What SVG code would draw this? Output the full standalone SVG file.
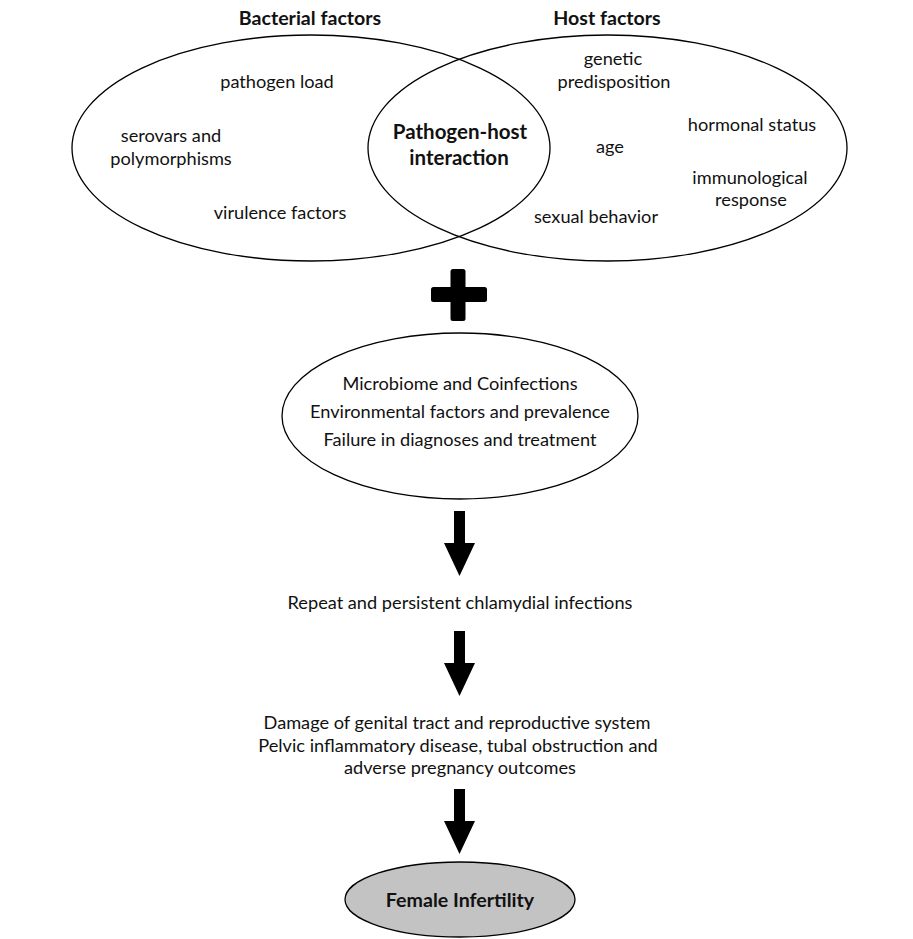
<svg xmlns="http://www.w3.org/2000/svg" width="913" height="939" viewBox="0 0 913 939">
<style>
.t{font-family:Lato,"Open Sans",sans-serif;font-size:18.2px;fill:#111;text-anchor:middle}
.b{font-family:Lato,"Open Sans",sans-serif;font-weight:bold;font-size:19.6px;fill:#111;text-anchor:middle}
.e{fill:none;stroke:#000;stroke-width:1.3}
.arr{fill:#000}
</style>
<rect width="913" height="939" fill="#fff"/>
<g id="bacterial-factors">
<ellipse class="e" cx="311" cy="148" rx="239" ry="113"/>
<text class="b" x="310" y="25">Bacterial factors</text>
<text class="t" x="277" y="88">pathogen load</text>
<text class="t" x="171" y="142">serovars and</text>
<text class="t" x="171" y="165">polymorphisms</text>
<text class="t" x="280" y="219">virulence factors</text>
</g>
<g id="host-factors">
<ellipse class="e" cx="607.5" cy="148" rx="239.5" ry="113"/>
<text class="b" x="607" y="25">Host factors</text>
<text class="t" x="613" y="65">genetic</text>
<text class="t" x="614" y="88">predisposition</text>
<text class="t" x="752" y="131">hormonal status</text>
<text class="t" x="610" y="153">age</text>
<text class="t" x="750" y="184">immunological</text>
<text class="t" x="751" y="206">response</text>
<text class="t" x="596" y="223">sexual behavior</text>
</g>
<g id="interaction">
<text class="b" x="460" y="139" style="font-size:20.5px">Pathogen-host</text>
<text class="b" x="459" y="165" style="font-size:20.5px">interaction</text>
</g>
<g id="cofactors">
<ellipse class="e" cx="460" cy="416" rx="178" ry="83"/>
<text class="t" x="460" y="390">Microbiome and Coinfections</text>
<text class="t" x="460" y="418">Environmental factors and prevalence</text>
<text class="t" x="460" y="446">Failure in diagnoses and treatment</text>
</g>
<g id="infections">
<text class="t" x="460" y="609">Repeat and persistent chlamydial infections</text>
</g>
<g id="damage">
<text class="t" x="457" y="729">Damage of genital tract and reproductive system</text>
<text class="t" x="458" y="752">Pelvic inflammatory disease, tubal obstruction and</text>
<text class="t" x="460" y="774">adverse pregnancy outcomes</text>
</g>
<g id="female-infertility">
<ellipse cx="460" cy="899.5" rx="115" ry="37.5" fill="#c3c3c3" stroke="#000" stroke-width="1.3"/>
<text class="b" x="460" y="907">Female Infertility</text>
</g>
<g id="connectors">
<rect class="arr" x="450.5" y="269" width="15" height="52" rx="2.5"/>
<rect class="arr" x="431" y="287" width="56" height="15" rx="2.5"/>
<polygon class="arr" points="454,511 465,511 465,543 475,543 459.5,576 444,543 454,543"/>
<polygon class="arr" points="454,631 465,631 465,663 475,663 459.5,696 444,663 454,663"/>
<polygon class="arr" points="454,789 465,789 465,821 475,821 459.5,854 444,821 454,821"/>
</g>
</svg>
